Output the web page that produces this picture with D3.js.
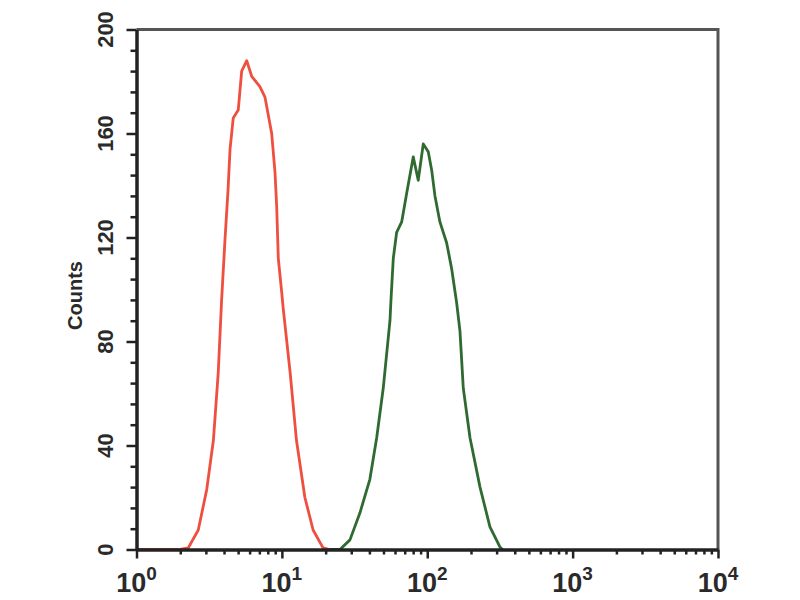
<!DOCTYPE html>
<meta charset="utf-8">
<style>
  body { margin: 0; background: #fff; }
  svg { display: block; font-family: "Liberation Sans", Arial, sans-serif; }
</style>
<svg id="chart" width="800" height="600"></svg>
<script src="https://cdn.jsdelivr.net/npm/d3@7/dist/d3.min.js"></script>
<script>

// isotype control (red) : fluorescence intensity, counts
var redX = [1, 1.99, 2.27, 2.66, 3.04, 3.38, 3.65, 3.85, 4.06, 4.26, 4.40, 4.63, 5.01, 5.29, 5.73,
            6.20, 7.06, 7.65, 8.51, 8.97, 9.21, 9.45, 9.97, 10.2, 11.4, 12.6, 14.4, 16.4, 19.2, 21.4];
var redY = [0, 0, 0.6, 7.5, 23, 42, 68, 96, 119, 138, 154, 166, 169, 184, 188,
            182, 178, 174, 160, 145, 132, 112, 99, 93, 68, 42, 20, 7.5, 0.6, 0];

// stained sample (green)
var greenX = [21.4, 25.1, 29.4, 34.4, 40.3, 44.9, 49.8, 55.4, 56.3, 58.4, 61.6, 66.7, 72.2, 80.1, 86.7,
              93.9, 101.6, 107.2, 113.0, 122.2, 135.9, 147.2, 159.2, 167.9, 177.0, 196.8, 230.6, 269.9, 316, 330];
var greenY = [0, 0, 3.7, 14, 27, 43, 62, 88, 96, 112, 122, 126, 137, 151, 142,
              156, 153, 146, 136, 126, 118, 108, 95, 84, 62, 43, 24, 8.7, 1, 0];

var yMajor = [0, 40, 80, 120, 160, 200];
var xMajor = [0, 1, 2, 3, 4]; // decade exponents

var svg = d3.select("#chart");
var margin = {top: 29.5, right: 82, bottom: 50.5, left: 136.5};
var width = 800 - margin.left - margin.right;
var height = 600 - margin.top - margin.bottom;

var g = svg.append("g")
	.attr("transform", "translate(" + margin.left + "," + margin.top + ")");

var x = d3.scaleLog().domain([1, 10000]).range([0, width]);
var y = d3.scaleLinear().domain([0, 200]).range([height, 0]);

// frame top/right
g.append("path")
	.attr("d", "M0,0H" + width + "V" + height)
	.attr("fill", "none")
	.attr("stroke", "#555")
	.attr("stroke-width", 3);

// curves
var line = d3.line()
	.x(function(d){ return x(d[0]); })
	.y(function(d){ return y(d[1]); });

g.append("path")
	.datum(redX.map(function(v, i){ return [v, redY[i]]; }))
	.attr("d", line)
	.attr("fill", "none")
	.attr("stroke", "#ef4f3e")
	.attr("stroke-width", 2.8)
	.attr("stroke-linejoin", "round");

g.append("path")
	.datum(greenX.map(function(v, i){ return [v, greenY[i]]; }))
	.attr("d", line)
	.attr("fill", "none")
	.attr("stroke", "#2f6a31")
	.attr("stroke-width", 2.8)
	.attr("stroke-linejoin", "round");

// y axis: minor then major ticks
var yMinor = d3.range(0, 201, 8).filter(function(v){ return v % 40 != 0; });
g.append("g")
	.call(d3.axisLeft(y).tickValues(yMinor).tickSize(6).tickFormat(""))
	.call(function(s){ s.select(".domain").remove(); s.selectAll("line").attr("stroke", "#222").attr("stroke-width", 2.5); });
g.append("g")
	.call(d3.axisLeft(y).tickValues(yMajor).tickSize(10).tickSizeOuter(0).tickFormat(""))
	.call(function(s){
		s.select(".domain").attr("stroke", "#222").attr("stroke-width", 3.5);
		s.selectAll("line").attr("stroke", "#222").attr("stroke-width", 2.5);
	});

g.selectAll(".ylab")
	.data(yMajor)
	.enter().append("text")
	.attr("class", "ylab")
	.attr("transform", function(d){ return "translate(-23.5," + y(d) + ") rotate(-90)"; })
	.attr("text-anchor", "middle")
	.attr("font-size", 22)
	.attr("font-weight", "bold")
	.attr("fill", "#2a2a2a")
	.text(function(d){ return d; });

svg.append("text")
	.attr("transform", "translate(82," + (margin.top + height / 2 + 6) + ") rotate(-90)")
	.attr("text-anchor", "middle")
	.attr("font-size", 20)
	.attr("font-weight", "bold")
	.attr("fill", "#2a2a2a")
	.text("Counts");

// x axis: log minor ticks
var xMinor = [];
for (var e = 0; e < 4; e++) for (var k = 2; k < 10; k++) xMinor.push(k * Math.pow(10, e));
var xAx = g.append("g").attr("transform", "translate(0," + height + ")");
xAx.append("g")
	.call(d3.axisBottom(x).tickValues(xMinor).tickSize(5).tickFormat(""))
	.call(function(s){ s.select(".domain").remove(); s.selectAll("line").attr("stroke", "#222").attr("stroke-width", 2.5); });
xAx.append("g")
	.call(d3.axisBottom(x).tickValues(xMajor.map(function(p){ return Math.pow(10, p); })).tickSize(9).tickSizeOuter(0).tickFormat(""))
	.call(function(s){
		s.select(".domain").attr("stroke", "#222").attr("stroke-width", 3.5);
		s.selectAll("line").attr("stroke", "#222").attr("stroke-width", 2.5);
	});

var xl = xAx.selectAll(".xlab")
	.data(xMajor)
	.enter().append("text")
	.attr("class", "xlab")
	.attr("x", function(d){ return x(Math.pow(10, d)); })
	.attr("y", 42)
	.attr("text-anchor", "middle")
	.attr("font-size", 27)
	.attr("font-weight", "bold")
	.attr("fill", "#2a2a2a");
xl.append("tspan").text("10");
xl.append("tspan").attr("dy", -12).attr("font-size", 19).text(function(d){ return d; });

</script>
</html>
